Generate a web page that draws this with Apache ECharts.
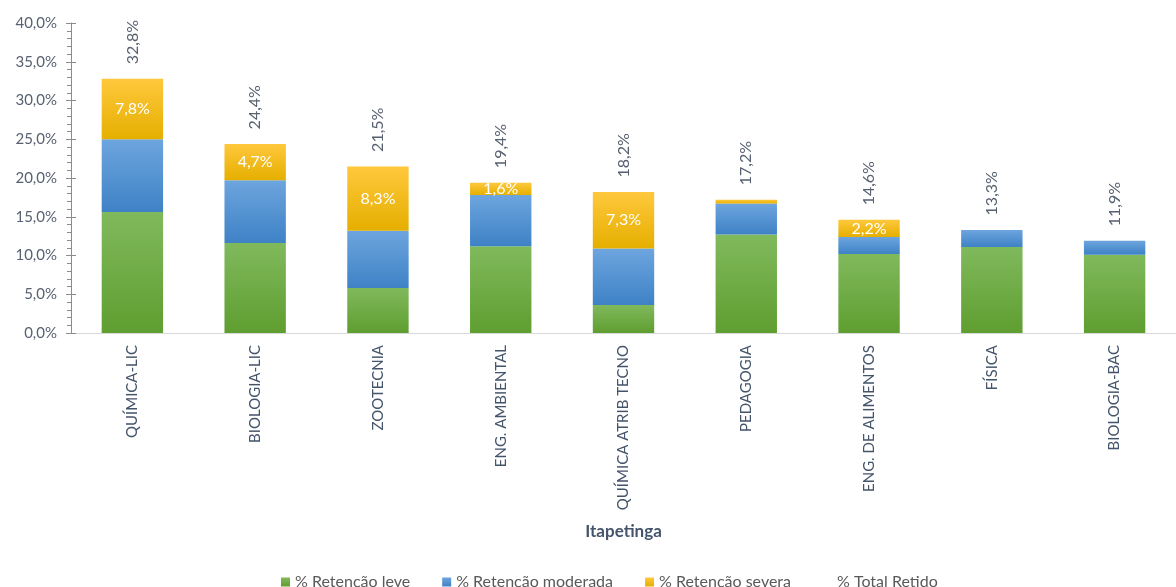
<!DOCTYPE html>
<html><head><meta charset="utf-8">
<script src="https://cdn.jsdelivr.net/npm/echarts@6/dist/echarts.min.js"></script>
<style>html,body{margin:0;padding:0;background:#fff}#c{width:1176px;height:587px}</style>
</head><body><div id="c"></div>
<script>
var categories = ["QUÍMICA-LIC","BIOLOGIA-LIC","ZOOTECNIA","ENG. AMBIENTAL","QUÍMICA ATRIB TECNO","PEDAGOGIA","ENG. DE ALIMENTOS","FÍSICA","BIOLOGIA-BAC"];
var leve = [15.6, 11.6, 5.8, 11.2, 3.6, 12.7, 10.2, 11.1, 10.1];
var moderada = [9.4, 8.1, 7.4, 6.6, 7.3, 4.0, 2.2, 2.2, 1.8];
var severa = [7.8, 4.7, 8.3, 1.6, 7.3, 0.5, 2.2, 0.0, 0.0];
var total = [32.8, 24.4, 21.5, 19.4, 18.2, 17.2, 14.6, 13.3, 11.9];
var yTicks = [0, 5, 10, 15, 20, 25, 30, 35, 40];

var FONT = "Lato, 'Open Sans', sans-serif";
var TXT = '#586170';
function pct(v){ return v.toFixed(1).replace('.', ',') + '%'; }
function grad(a, b){ return new echarts.graphic.LinearGradient(0,0,0,1,[{offset:0,color:a},{offset:1,color:b}]); }

var chart = echarts.init(document.getElementById('c'));
chart.setOption({
  animation: false,
  grid: { left: 71, top: 23, width: 1117, bottom: 254, containLabel: false },
  legend: {
    left: 276, top: 569, itemWidth: 9, itemHeight: 9, itemGap: 32,
    textStyle: { color: '#595959', fontSize: 16, fontFamily: FONT },
    data: [
      { name: '% Retenção leve', icon: 'rect' },
      { name: '% Retenção moderada', icon: 'rect' },
      { name: '% Retenção severa', icon: 'rect' },
      { name: '% Total Retido', icon: 'none' }
    ]
  },
  xAxis: {
    type: 'category', data: categories,
    name: 'Itapetinga', nameLocation: 'middle', nameGap: 190,
    nameTextStyle: { color: '#44546A', fontSize: 17, fontWeight: 'bold', fontFamily: FONT },
    axisLine: { lineStyle: { color: '#D9D9D9', width: 1 } },
    axisTick: { show: false },
    axisLabel: { rotate: 90, color: '#44546A', fontSize: 15, fontFamily: FONT, margin: 12, interval: 0 }
  },
  yAxis: [{
    type: 'value', min: yTicks[0], max: yTicks[yTicks.length-1], interval: 5,
    axisLine: { show: true, lineStyle: { color: '#8C8C8C' } },
    axisTick: { show: true, inside: false, length: 5, lineStyle: { color: '#8C8C8C' } },
    minorTick: { show: true, splitNumber: 5, length: 4, lineStyle: { color: '#8C8C8C' } },
    splitLine: { show: false },
    axisLabel: { color: TXT, fontSize: 15, fontFamily: FONT, margin: 14, formatter: function(v){ return pct(v); } }
  }, {
    type: 'value', position: 'left', min: yTicks[0], max: yTicks[yTicks.length-1], interval: 5,
    axisLine: { show: false },
    axisTick: { show: true, inside: true, length: 5, lineStyle: { color: '#8C8C8C' } },
    axisLabel: { show: false }, splitLine: { show: false }
  }],
  series: [
    { name: '% Retenção leve', type: 'bar', stack: 's', barWidth: '50%', data: leve,
      itemStyle: { color: grad('#80B95C', '#5F9E30') } },
    { name: '% Retenção moderada', type: 'bar', stack: 's', data: moderada,
      itemStyle: { color: grad('#6DA5DE', '#3E82C6') } },
    { name: '% Retenção severa', type: 'bar', stack: 's', data: severa,
      itemStyle: { color: grad('#FFC83D', '#E5AF00') },
      label: { show: true, position: 'inside', color: '#FFFFFF', fontSize: 16, fontFamily: FONT,
        formatter: function(p){ return p.value >= 1 ? pct(p.value) : ''; } } },
    { name: '% Total Retido', type: 'line', data: total, symbol: 'circle', symbolSize: 1,
      itemStyle: { color: 'rgba(0,0,0,0)' }, lineStyle: { opacity: 0 }, z: 10,
      label: { show: true, position: 'top', distance: 14, rotate: 90, align: 'left', verticalAlign: 'middle',
        color: TXT, fontSize: 16, fontFamily: FONT, formatter: function(p){ return pct(p.value); } } }
  ]
});
</script></body></html>
